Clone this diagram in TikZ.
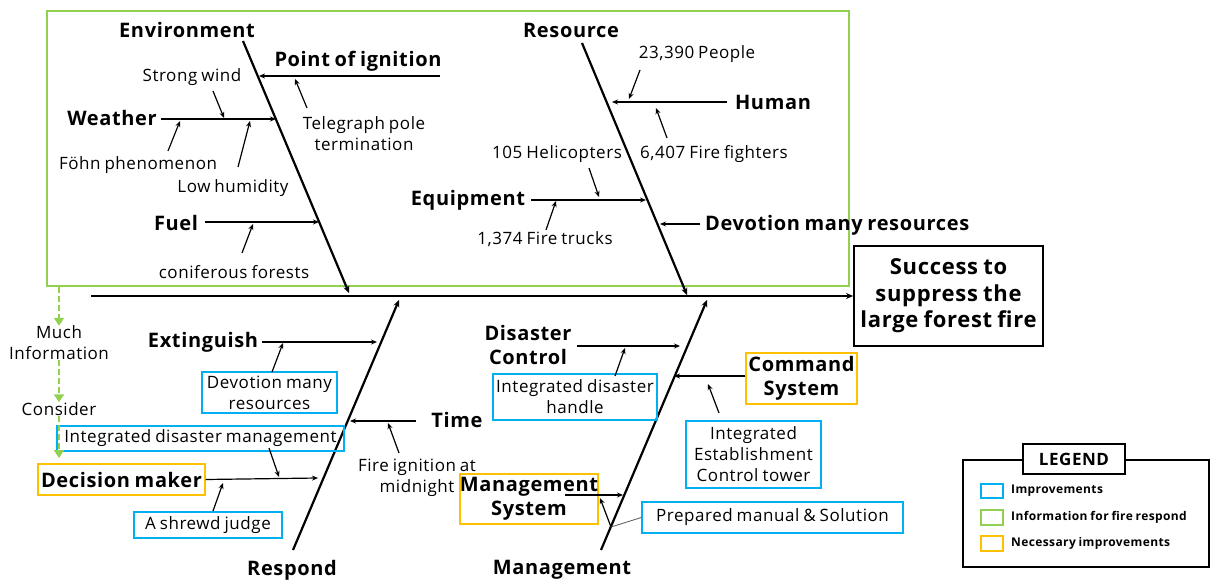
\documentclass[tikz,border=0pt]{standalone}
\usepackage{fontspec}
\setmainfont{Open Sans}[LetterSpace=3.2, WordSpace=0.8]
\usetikzlibrary{arrows.meta}
\definecolor{infogreen}{RGB}{146,208,80}
\definecolor{impblue}{RGB}{0,176,240}
\definecolor{needorange}{RGB}{255,192,0}
\begin{document}
\begin{tikzpicture}[
		x=1pt, y=-1pt,
		% bones, twigs and the texts on them
		bone/.style={line width=2.2pt, -{Stealth[length=7pt,width=6pt]}},
		twig/.style={line width=1.2pt, -{Stealth[length=6pt,width=5pt]}},
		cause/.style={font=\fontsize{20}{24}\selectfont\bfseries, align=center, inner sep=0pt},
		note/.style={font=\fontsize{17}{21}\selectfont, align=center, inner sep=0pt},
		impbox/.style={note, draw=impblue, line width=1.4pt},
		needbox/.style={cause, draw=needorange, line width=1.4pt},
		infoarrow/.style={infogreen, line width=2.6pt, dash pattern=on 6pt off 3pt, -{Triangle[length=8pt,width=10pt]}},
		keyline/.style={font=\fontsize{12}{14}\selectfont\bfseries, anchor=west, inner sep=0pt}
	]
	\useasboundingbox (0,0) rectangle (1210,583);

	% information area
	\draw[infogreen, line width=1.4pt] (47,11) rectangle (849,286);

	% head and spine
	\node[cause, font=\fontsize{22}{26.5}\selectfont\bfseries, draw, line width=1.8pt, minimum width=189pt, minimum height=100pt] (goal) at (948.5,296) {Success to\\suppress the\\large forest fire};
	\coordinate (tail) at (91,296);
	\draw[bone] (tail) -- (goal.west);

	% bones
	\coordinate (EnvTop) at (243,41);
	\coordinate (EnvEnd) at (349,293);
	\coordinate (ResTop) at (582,43);
	\coordinate (ResEnd) at (687,295);
	\coordinate (RspBot) at (293,550);
	\coordinate (RspEnd) at (399,300);
	\coordinate (MgtBot) at (601,550);
	\coordinate (MgtEnd) at (707,300);
	\draw[bone] (EnvTop) -- (EnvEnd);
	\draw[bone] (ResTop) -- (ResEnd);
	\draw[bone] (RspBot) -- (RspEnd);
	\draw[bone] (MgtBot) -- (MgtEnd);
	\node[cause] (env) at (187,30) {Environment};
	\node[cause] (res) at (571,30) {Resource};
	\node[cause] (rsp) at (292,570) {Respond};
	\node[cause] (mgt) at (562,570) {Management};

	% Environment
	\node[cause] (ignition) at (358,61) {Point of ignition};
	\node[cause] (weather) at (112,118) {Weather};
	\node[cause] (fuel) at (176,223) {Fuel};
	\node[note] (pole) at (364,133.5) {Telegraph pole\\termination};
	\node[note] (wind) at (192,77) {Strong wind};
	\node[note] (fohn) at (138,165) {Föhn phenomenon};
	\node[note] (humid) at (233,188) {Low humidity};
	\node[note] (forest) at (234,272) {coniferous forests};
	\coordinate (IgnS) at (440,76);   \coordinate (IgnE) at (259,76);
	\coordinate (WeaS) at (161,119);  \coordinate (WeaE) at (276,119);
	\coordinate (FuelS) at (205,222); \coordinate (FuelE) at (319,222);
	\draw[twig] (IgnS) -- (IgnE);
	\draw[twig] (WeaS) -- (WeaE);
	\draw[twig] (FuelS) -- (FuelE);
	\draw[twig] (307,108) coordinate (PoleS) -- (295,79) coordinate (PoleE);
	\draw[twig] (213,91) coordinate (WindS) -- (224,118) coordinate (WindE);
	\draw[twig] (168,151) coordinate (FohnS) -- (180,121) coordinate (FohnE);
	\draw[twig] (238,167) coordinate (HumS) -- (250,121) coordinate (HumE);
	\draw[twig] (242,253) coordinate (ForS) -- (253,224) coordinate (ForE);

	% Resource
	\node[cause] (human) at (773,102) {Human};
	\node[cause] (equip) at (468,200) {Equipment};
	\node[cause, anchor=west] (devote) at (705,225) {Devotion many resources};
	\node[note] (people) at (697,54) {23,390 People};
	\node[note] (fighters) at (714,154) {6,407 Fire fighters};
	\node[note] (heli) at (557,154) {105 Helicopters};
	\node[note] (trucks) at (545,239) {1,374 Fire trucks};
	\coordinate (HumS) at (727,102);  \coordinate (HumE) at (612,102);
	\coordinate (EquS) at (531,200);  \coordinate (EquE) at (646,200);
	\coordinate (DevS) at (700,224);  \coordinate (DevE) at (660,224);
	\draw[twig] (HumS) -- (HumE);
	\draw[twig] (EquS) -- (EquE);
	\draw[twig] (DevS) -- (DevE);
	\draw[twig] (640,70) coordinate (PplS) -- (629,99) coordinate (PplE);
	\draw[twig] (667,138) coordinate (FfS) -- (656,108) coordinate (FfE);
	\draw[twig] (589,168) coordinate (HeliS) -- (599,197) coordinate (HeliE);
	\draw[twig] (546,230) coordinate (TrkS) -- (556,201) coordinate (TrkE);

	% Respond
	\node[cause] (extin) at (203,342) {Extinguish};
	\node[cause] (time) at (457,420) {Time};
	\node[needbox, minimum width=167pt, minimum height=31pt] (decide) at (121.5,479.5) {Decision maker};
	\node[impbox, minimum width=135pt, minimum height=41pt] (devbox) at (269.5,392.5) {Devotion many\\resources};
	\node[impbox, minimum width=287pt, minimum height=25pt] (idm) at (200.5,438.5) {Integrated disaster management};
	\node[impbox, minimum width=148pt, minimum height=26pt] (shrewd) at (208,525) {A shrewd judge};
	\node[note] (night) at (417,478) {Fire ignition at\\midnight};
	\coordinate (ExtS) at (262,342);  \coordinate (ExtE) at (377,342);
	\coordinate (TimS) at (416,421);  \coordinate (TimE) at (350,421);
	\coordinate (DecE) at (318,478);
	\draw[twig] (ExtS) -- (ExtE);
	\draw[twig] (TimS) -- (TimE);
	\draw[twig] (decide.east) -- (DecE);
	\draw[twig] (272,372) coordinate (DvbS) -- (283,343) coordinate (DvbE);
	\draw[twig] (399,453) coordinate (NgtS) -- (388,423) coordinate (NgtE);
	\draw[twig] (269,448) coordinate (IdmS) -- (279,477) coordinate (IdmE);
	\draw[twig] (213,511) coordinate (ShrS) -- (223,483) coordinate (ShrE);

	% Management
	\node[cause] (disctl) at (528,345) {Disaster\\Control};
	\node[needbox, minimum width=111pt, minimum height=51pt] (command) at (801.5,378.5) {Command\\System};
	\node[needbox, minimum width=138pt, minimum height=50pt] (mgtsys) at (529,499) {Management\\System};
	\node[impbox, minimum width=164pt, minimum height=46pt] (idh) at (575,397) {Integrated disaster\\handle};
	\node[impbox, minimum width=135pt, minimum height=67pt] (tower) at (753.5,454.5) {Integrated\\Establishment\\Control tower};
	\node[impbox, minimum width=261pt, minimum height=31pt] (manual) at (772.5,517.5) {Prepared manual \& Solution};
	\coordinate (DisS) at (577,346);  \coordinate (DisE) at (680,346);
	\coordinate (CmdE) at (674,376);
	\coordinate (MsS) at (565,495);   \coordinate (MsE) at (623,495);
	\draw[twig] (DisS) -- (DisE);
	\draw[twig] (command.west |- CmdE) -- (CmdE);
	\draw[twig] (MsS) -- (MsE);
	\draw[twig] (615,376) coordinate (IdhS) -- (625,348) coordinate (IdhE);
	\draw[twig] (719,413) coordinate (TowS) -- (708,384) coordinate (TowE);
	\draw[twig] (611,527) coordinate (ManS) -- (600,498) coordinate (ManE);
	\draw[gray!70!black, line width=0.8pt] (ManS) -- (manual.west);

	% information flow
	\node[note] (much) at (59,343) {Much\\Information};
	\node[note] (consider) at (59,409) {Consider};
	\draw[infoarrow] (59,287) -- (much.north);
	\draw[infoarrow] (much.south) -- (consider.north);
	\draw[infoarrow] (consider.south) -- (59,458);

	% legend
	\draw[line width=1.4pt] (963,460) rectangle (1209,567);
	\node[cause, font=\fontsize{17}{20}\selectfont\bfseries, draw, line width=1.4pt, fill=white, minimum width=102pt, minimum height=30pt] (legend) at (1074,459) {LEGEND};
	\draw[impblue, line width=1.4pt] (981,484) rectangle (1003,498);
	\draw[infogreen, line width=1.4pt] (981,510) rectangle (1003,525);
	\draw[needorange, line width=1.4pt] (981,536) rectangle (1003,551);
	\node[keyline] (k1) at (1011,491) {Improvements};
	\node[keyline] (k2) at (1011,517.5) {Information for fire respond};
	\node[keyline] (k3) at (1011,543.5) {Necessary improvements};
\end{tikzpicture}
\end{document}
